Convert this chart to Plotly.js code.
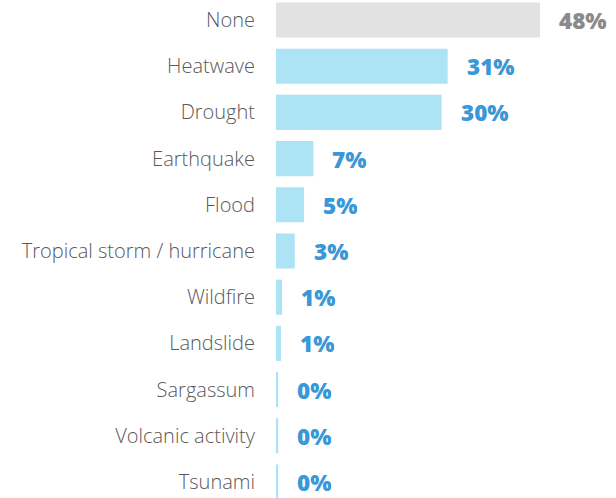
<!DOCTYPE html>
<html>
<head>
<meta charset="utf-8">
<script src="https://cdn.plot.ly/plotly-3.0.1.min.js"></script>
<style>html,body{margin:0;padding:0;background:#fff;}#chart{width:616px;height:498px;}</style>
</head>
<body>
<div id="chart"></div>
<script>
const categories = ["None","Heatwave","Drought","Earthquake","Flood","Tropical storm / hurricane","Wildfire","Landslide","Sargassum","Volcanic activity","Tsunami"];
const values = [48, 31.2, 30.1, 6.8, 5.1, 3.4, 1.1, 0.9, 0.4, 0.4, 0.4];
const labels = ["48%","31%","30%","7%","5%","3%","1%","1%","0%","0%","0%"];
const highlight = ["None"];

const barColors = categories.map(c => highlight.includes(c) ? "#e2e2e2" : "#ade4f5");
const textColors = categories.map(c => highlight.includes(c) ? "#8a8a8a" : "#3a97d8");

const trace = {
  type: "bar",
  orientation: "h",
  y: categories,
  x: values,
  marker: {color: barColors},
  hoverinfo: "none"
};

const annotations = categories.map((c, i) => ({
  x: values[i], y: c, xref: "x", yref: "y",
  text: labels[i], showarrow: false, xanchor: "left", xshift: 18,
  height: 24, valign: "middle", borderpad: 0,
  font: {family: "'Open Sans', Lato, sans-serif", size: 22.5, color: textColors[i], weight: 800}
}));

const layout = {
  width: 616, height: 498,
  margin: {l: 276, r: 0, t: 0, b: 0},
  paper_bgcolor: "#fff", plot_bgcolor: "#fff",
  bargap: 0.24,
  showlegend: false,
  xaxis: {range: [0, 61.8], visible: false, fixedrange: true},
  yaxis: {
    type: "category",
    range: [10.346, -0.433],
    showgrid: false, zeroline: false, showline: false, ticks: "",
    ticklabelstandoff: 20,
    tickfont: {family: "'Open Sans', Lato, sans-serif", size: 20, color: "#595959", weight: 300}
  },
  annotations: annotations
};

Plotly.newPlot("chart", [trace], layout, {displayModeBar: false, staticPlot: true});
</script>
</body>
</html>
